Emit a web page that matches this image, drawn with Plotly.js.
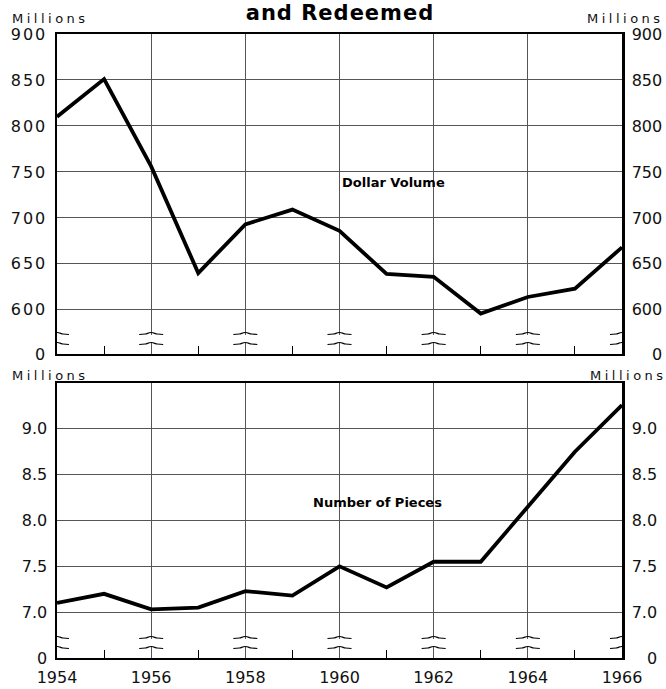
<!DOCTYPE html>
<html>
<head>
<meta charset="utf-8">
<script src="https://cdn.plot.ly/plotly-3.0.1.min.js"></script>
<style>
  html, body { margin: 0; padding: 0; background: #fff; }
  #chart { width: 666px; height: 689px; }
  .ytick text { letter-spacing: 2px; }
  .xtick text { letter-spacing: 1px; }
  .gtitle { letter-spacing: 1px; }
</style>
</head>
<body>
<div id="chart"></div>
<script>
// ---- data ----
const years = [1954, 1955, 1956, 1957, 1958, 1959, 1960, 1961, 1962, 1963, 1964, 1965, 1966];
const dollarVolume = [810, 851, 756, 640, 693, 709, 686, 639, 636, 596, 614, 623, 668];
const numberOfPieces = [7.10, 7.20, 7.03, 7.05, 7.23, 7.18, 7.50, 7.27, 7.55, 7.55, 8.15, 8.75, 9.26];

const yearTickVals = [1954, 1956, 1958, 1960, 1962, 1964, 1966];
const yearTickText = ['1954', '1956', '1958', '1960', '1962', '1964', '1966'];
const oddYearTicks = [1955, 1957, 1959, 1961, 1963, 1965];

const topTickVals = [552, 600, 650, 700, 750, 800, 850, 900];
const topTickText = ['0', '600', '650', '700', '750', '800', '850', '900'];
const topTickTextRight = ['\u2007\u20070', '600', '650', '700', '750', '800', '850', '900'];
const bottomTickVals = [6.5, 7.0, 7.5, 8.0, 8.5, 9.0];
const bottomTickText = ['0', '7.0', '7.5', '8.0', '8.5', '9.0'];
const bottomTickTextRight = ['\u2007\u20080', '7.0', '7.5', '8.0', '8.5', '9.0'];

const titleText = 'and Redeemed';
const unitLabel = 'Millions';
const topSeriesLabel = 'Dollar Volume';
const bottomSeriesLabel = 'Number of Pieces';

// ---- layout constants ----
const W = 666, H = 689;
const M = { l: 57, r: 44, t: 34, b: 31 };
const topRange = [552, 900];
const bottomRange = [6.5, 9.5];
const tickFont = { family: 'DejaVu Sans, sans-serif', size: 16, color: '#111' };
const gridColor = '#555';

const lineStyle = { color: '#000', width: 3.8 };

const traces = [
  { x: years, y: dollarVolume, xaxis: 'x', yaxis: 'y', mode: 'lines', line: lineStyle, hoverinfo: 'skip' },
  { x: years, y: dollarVolume, xaxis: 'x', yaxis: 'y2', mode: 'lines', opacity: 0, line: { width: 0 }, hoverinfo: 'skip' },
  { x: years, y: numberOfPieces, xaxis: 'x2', yaxis: 'y3', mode: 'lines', line: lineStyle, hoverinfo: 'skip' },
  { x: years, y: numberOfPieces, xaxis: 'x2', yaxis: 'y4', mode: 'lines', opacity: 0, line: { width: 0 }, hoverinfo: 'skip' }
];

function xAxisBase(extra) {
  return Object.assign({
    range: [1954, 1966],
    tickmode: 'array',
    tickvals: yearTickVals,
    ticks: '',
    showgrid: true,
    gridcolor: gridColor,
    gridwidth: 1,
    zeroline: false,
    showline: true,
    mirror: true,
    linecolor: '#000',
    linewidth: 2,
    fixedrange: true,
    minor: { tickmode: 'array', tickvals: oddYearTicks, ticks: 'inside', ticklen: 8, tickwidth: 1, tickcolor: '#000', showgrid: false }
  }, extra);
}

function yAxisBase(extra) {
  return Object.assign({
    tickmode: 'array',
    ticks: '',
    tickfont: tickFont,
    zeroline: false,
    showline: true,
    linecolor: '#000',
    linewidth: 2.5,
    fixedrange: true,
    ticklabelstandoff: 4
  }, extra);
}

// axis-break marks at every even year, in each panel
const shapes = [];
['y domain', 'y3 domain'].forEach(function (yr) {
  yearTickVals.forEach(function (yr0) {
    shapes.push({
      type: 'rect', layer: 'above', xref: 'x', xsizemode: 'pixel', xanchor: yr0, x0: -4, x1: 4,
      yref: yr, ysizemode: 'pixel', yanchor: 0, y0: 11, y1: 19,
      fillcolor: '#fff', line: { width: 0 }
    });
    [10, 20].forEach(function (h) {
      shapes.push({
        type: 'path', layer: 'above', xref: 'x', xsizemode: 'pixel', xanchor: yr0,
        yref: yr, ysizemode: 'pixel', yanchor: 0,
        path: 'M-12,' + (h - 0.5) + ' L-6,' + h + ' C-4,' + h + ' -3,' + (h + 1.5) + ' 0,' + (h + 1.5) +
              ' C3,' + (h + 1.5) + ' 4,' + h + ' 6,' + h + ' L12,' + (h - 0.5),
        line: { color: '#000', width: 1.2 }
      });
    });
  });
});

const labelFont = { family: 'DejaVu Sans, sans-serif', size: 13, color: '#111' };
const seriesFont = { family: 'DejaVu Sans, sans-serif', size: 13, color: '#000', weight: 'bold' };
function spaced(t) { return '<span style="letter-spacing:3.5px">' + t + '</span>'; }

const annotations = [
  { text: spaced(unitLabel), xref: 'paper', yref: 'paper', x: (10 - M.l) / (W - M.l - M.r), y: 1 + (34 - 18) / (H - M.t - M.b), xanchor: 'left', yanchor: 'middle', showarrow: false, font: labelFont },
  { text: spaced(unitLabel), xref: 'paper', yref: 'paper', x: (666 - M.l) / (W - M.l - M.r), y: 1 + (34 - 18) / (H - M.t - M.b), xanchor: 'right', yanchor: 'middle', showarrow: false, font: labelFont },
  { text: spaced(unitLabel), xref: 'paper', yref: 'paper', x: (10 - M.l) / (W - M.l - M.r), y: (H - M.b - 375) / (H - M.t - M.b), xanchor: 'left', yanchor: 'middle', showarrow: false, font: labelFont },
  { text: spaced(unitLabel), xref: 'paper', yref: 'paper', x: (669 - M.l) / (W - M.l - M.r), y: (H - M.b - 375) / (H - M.t - M.b), xanchor: 'right', yanchor: 'middle', showarrow: false, font: labelFont },
  { text: topSeriesLabel, xref: 'x', yref: 'y', x: 1961.15, y: 738, xanchor: 'center', yanchor: 'middle', showarrow: false, font: seriesFont },
  { text: bottomSeriesLabel, xref: 'x2', yref: 'y3', x: 1960.8, y: 8.2, xanchor: 'center', yanchor: 'middle', showarrow: false, font: seriesFont }
];

const layout = {
  width: W, height: H,
  margin: M,
  paper_bgcolor: '#fff', plot_bgcolor: '#fff',
  showlegend: false,
  title: {
    text: titleText,
    font: { family: 'DejaVu Sans, sans-serif', size: 21, color: '#000', weight: 'bold' },
    x: 340 / W, xanchor: 'center', xref: 'container',
    y: 1 - 13 / H, yanchor: 'middle', yref: 'container'
  },
  xaxis: xAxisBase({ anchor: 'y', showticklabels: false }),
  xaxis2: xAxisBase({ anchor: 'y3', showticklabels: true, ticktext: yearTickText, tickfont: tickFont, ticklabelstandoff: 4 }),
  yaxis: yAxisBase({ domain: [0.4872, 1], anchor: 'x', range: topRange, tickvals: topTickVals, ticktext: topTickText, showgrid: true, gridcolor: gridColor, gridwidth: 1 }),
  yaxis2: yAxisBase({ overlaying: 'y', side: 'right', anchor: 'x', range: topRange, tickvals: topTickVals, ticktext: topTickTextRight, showgrid: false }),
  yaxis3: yAxisBase({ domain: [0, 0.4407], anchor: 'x2', range: bottomRange, tickvals: bottomTickVals, ticktext: bottomTickText, showgrid: true, gridcolor: gridColor, gridwidth: 1 }),
  yaxis4: yAxisBase({ overlaying: 'y3', side: 'right', anchor: 'x2', range: bottomRange, tickvals: bottomTickVals, ticktext: bottomTickTextRight, showgrid: false }),
  shapes: shapes,
  annotations: annotations
};

Plotly.newPlot('chart', traces, layout, { staticPlot: true, displayModeBar: false });
</script>
</body>
</html>
